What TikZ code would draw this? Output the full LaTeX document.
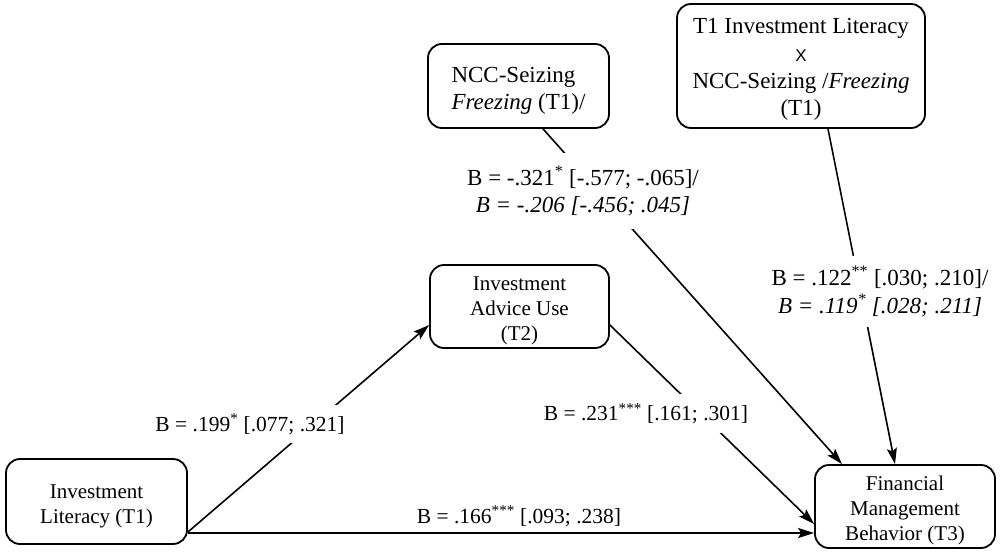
\documentclass[tikz,border=0pt]{standalone}
\usepackage{fontspec}
\setmainfont{Liberation Serif}
\newfontfamily\xsans{Liberation Sans}
\usetikzlibrary{arrows.meta}
\newcommand\mystrut[1]{\rule{0pt}{#1pt}}
\begin{document}
\begin{tikzpicture}[x=1pt,y=-1pt,
  box/.style={draw, line width=1.8pt, rounded corners=14pt, align=center, inner sep=0pt, font=\fontsize{21}{25}\selectfont},
  topbox/.style={box, font=\fontsize{23}{27.3}\selectfont},
  conn/.style={line width=1.6pt, -{Stealth[length=16pt,width=10pt,inset=3pt]}},
  lab/.style={fill=white, inner xsep=2pt, inner ysep=0pt, align=center, font=\fontsize{21.5}{26}\selectfont},
  toplab/.style={lab, font=\fontsize{23}{27.5}\selectfont}]
\useasboundingbox[fill=white] (0,0) rectangle (1000,559);

\node[box, minimum width=181pt, minimum height=85pt] (IL) at (96.5,501.5) {\mystrut{24}Investment\\Literacy (T1)};
\node[box, minimum width=179pt, minimum height=83pt] (IAU) at (519.5,306.5) {\mystrut{23}Investment\\Advice Use\\(T2)};
\node[box, minimum width=180pt, minimum height=83pt] (FMB) at (905,506.5) {\mystrut{23.3}Financial\\Management\\Behavior (T3)};
\node[topbox, align=left, minimum width=181pt, minimum height=84pt] (NCC) at (518.5,86) {\mystrut{25.2}NCC-Seizing\\\textit{Freezing} (T1)/};
\node[topbox, minimum width=248pt, minimum height=124pt] (T1X) at (801,66) {\mystrut{22.2}T1 Investment Literacy\\{\xsans\fontsize{17}{27.3}\selectfont X}\\NCC-Seizing /\textit{Freezing}\\(T1)};

\draw[conn] ([yshift=-30.5pt]IL.east) -- ([yshift=-18.5pt]IAU.west);
\draw[conn] ([yshift=-18.5pt]IAU.east) -- ([yshift=-17.5pt]FMB.west);
\draw[conn] ([yshift=-31.5pt]IL.east) -- ([yshift=-26.5pt]FMB.west);
\draw[conn] ([xshift=24.5pt]NCC.south) -- ([xshift=-63pt]FMB.north);
\draw[conn] ([xshift=27pt]T1X.south) -- ([xshift=-10pt]FMB.north);

\node[lab, minimum height=38pt] (L1) at (250,424) {B = .199\textsuperscript{*} [.077; .321]};
\node[lab, minimum height=39pt] (L2) at (646,413.5) {B = .231\textsuperscript{***} [.161; .301]};
\node[lab, fill=none] (L3) at (519,516) {B = .166\textsuperscript{***} [.093; .238]};
\node[toplab, minimum height=76pt] (L4) at (583,191) {B = -.321\textsuperscript{*} [-.577; -.065]/\\\textit{B = -.206 [-.456; .045]}};
\node[toplab, minimum height=71pt] (L5) at (880,291.5) {B = .122\textsuperscript{**} [.030; .210]/\\\textit{B = .119\textsuperscript{*} [.028; .211]}};
\end{tikzpicture}
\end{document}
